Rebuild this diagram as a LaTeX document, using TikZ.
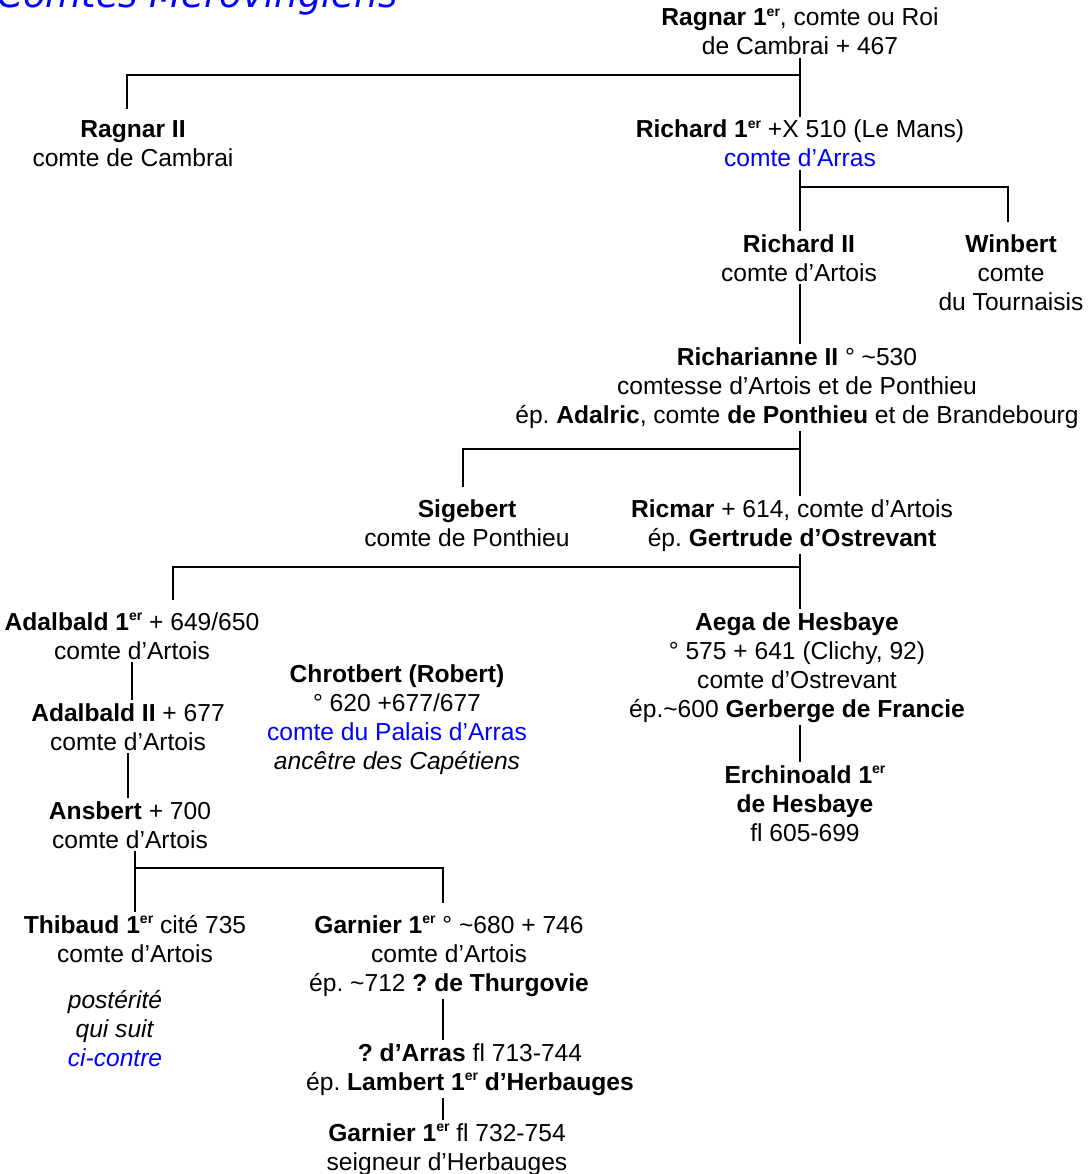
\documentclass[tikz,border=0pt]{standalone}
\usepackage{fontspec}
\setmainfont{Liberation Sans}
\newfontfamily\titlefont{DejaVu Sans}
\usetikzlibrary{calc}
\frenchspacing
\newcommand\ier{\raisebox{0.75ex}{\fontsize{14}{14}\selectfont er}}
\tikzset{
    x=1pt, y=-1pt, % pixel grid, y going down
    person/.style={align=center, anchor=base, inner sep=3pt, font=\fontsize{24.6}{29}\selectfont}, % one name block, placed by its last baseline
    link/.style={line width=2.6pt}, % family lines
    drop/.style={link, shorten >=9pt}, % side branch
}

\begin{document}
\begin{tikzpicture}
  \useasboundingbox (0,0) rectangle (1089,1174);
  \clip (0,0) rectangle (1089,1174);

  % title, cut by the top edge
  \node[anchor=base west, inner sep=0pt, text=blue, font=\titlefont\itshape\fontsize{37}{40}\selectfont] (title) at (-3,8) {Comtes Mérovingiens};

  % generations
  \node[person] (ragnarI) at (800,55) {\textbf{Ragnar 1\ier}, comte ou Roi\\de Cambrai + 467};
  \node[person] (ragnarII) at (133,167) {\textbf{Ragnar II}\\comte de Cambrai};
  \node[person] (richardI) at (800,167) {\textbf{Richard 1\ier} +X 510 (Le Mans)\\\textcolor{blue}{comte d’Arras}};
  \node[person] (richardII) at (799,281) {\textbf{Richard II}\\comte d’Artois};
  \node[person] (winbert) at (1011,310) {\textbf{Winbert}\\comte\\du Tournaisis};
  \node[person] (richarianne) at (797,423) {\textbf{Richarianne II} ° \textasciitilde530\\comtesse d’Artois et de Ponthieu\\ép. \textbf{Adalric}, comte \textbf{de Ponthieu} et de Brandebourg};
  \node[person] (sigebert) at (467,546) {\textbf{Sigebert}\\comte de Ponthieu};
  \node[person] (ricmar) at (792,546) {\textbf{Ricmar} + 614, comte d’Artois\\ép. \textbf{Gertrude d’Ostrevant}};
  \node[person] (adalbaldI) at (132,659) {\textbf{Adalbald 1\ier} + 649/650\\comte d’Artois};
  \node[person] (aega) at (797,717) {\textbf{Aega de Hesbaye}\\° 575 + 641 (Clichy, 92)\\comte d’Ostrevant\\ép.\textasciitilde600 \textbf{Gerberge de Francie}};
  \node[person] (adalbaldII) at (128,750) {\textbf{Adalbald II} + 677\\comte d’Artois};
  \node[person] (chrotbert) at (397,769) {\textbf{Chrotbert (Robert)}\\° 620 +677/677\\\textcolor{blue}{comte du Palais d’Arras}\\\textit{ancêtre des Capétiens}};
  \node[person] (ansbert) at (130,848) {\textbf{Ansbert} + 700\\comte d’Artois};
  \node[person] (erchinoald) at (805,841) {\textbf{Erchinoald 1\ier}\\\textbf{de Hesbaye}\\fl 605-699};
  \node[person] (thibaud) at (135,962) {\textbf{Thibaud 1\ier} cité 735\\comte d’Artois};
  \node[person] (posterite) at (115,1066) {\textit{postérité}\\\textit{qui suit}\\\textcolor{blue}{\textit{ci-contre}}};
  \node[person] (garnierI) at (449,991) {\textbf{Garnier 1\ier} ° \textasciitilde680 + 746\\comte d’Artois\\ép. \textasciitilde712 \textbf{? de Thurgovie}};
  \node[person] (arras) at (470,1090) {\textbf{? d’Arras} fl 713-744\\ép. \textbf{Lambert 1\ier\ d’Herbauges}};
  \node[person] (garnierH) at (447,1170) {\textbf{Garnier 1\ier} fl 732-754\\seigneur d’Herbauges};

  % junctions
  \coordinate (j1) at (800,75);  \coordinate (d1) at (127,75);
  \coordinate (j2) at (800,187); \coordinate (d2) at (1008,187);
  \coordinate (j4) at (800,449); \coordinate (d4) at (463,449);
  \coordinate (j5) at (800,567); \coordinate (d5) at (173,567);
  \coordinate (j9) at (135,868); \coordinate (d9) at (443,868);

  \draw[link] (ragnarI.south -| j1) -- (richardI.north -| j1);
  \draw[drop] (j1) -- (d1) -- (d1 |- ragnarII.north);
  \draw[link] (richardI.south -| j2) -- (richardII.north -| j2);
  \draw[drop] (j2) -- (d2) -- (d2 |- winbert.north);
  \draw[link] (richardII.south -| j2) -- (richarianne.north -| j2);
  \draw[link] (richarianne.south -| j4) -- (ricmar.north -| j4);
  \draw[drop] (j4) -- (d4) -- (d4 |- sigebert.north);
  \draw[link] (ricmar.south -| j5) -- (aega.north -| j5);
  \draw[drop] (j5) -- (d5) -- (d5 |- adalbaldI.north);
  \draw[link] (adalbaldI.south) -- (adalbaldI.south |- adalbaldII.north);
  \draw[link] (adalbaldII.south) -- (adalbaldII.south |- ansbert.north);
  \draw[link] (aega.south -| j5) -- (erchinoald.north -| j5);
  \draw[link] (ansbert.south -| j9) -- (thibaud.north -| j9);
  \draw[drop] (j9) -- (d9) -- (d9 |- garnierI.north);
  \draw[link] (garnierI.south -| d9) -- (arras.north -| d9);
  \draw[link] (arras.south -| d9) -- (garnierH.north -| d9);
\end{tikzpicture}
\end{document}
